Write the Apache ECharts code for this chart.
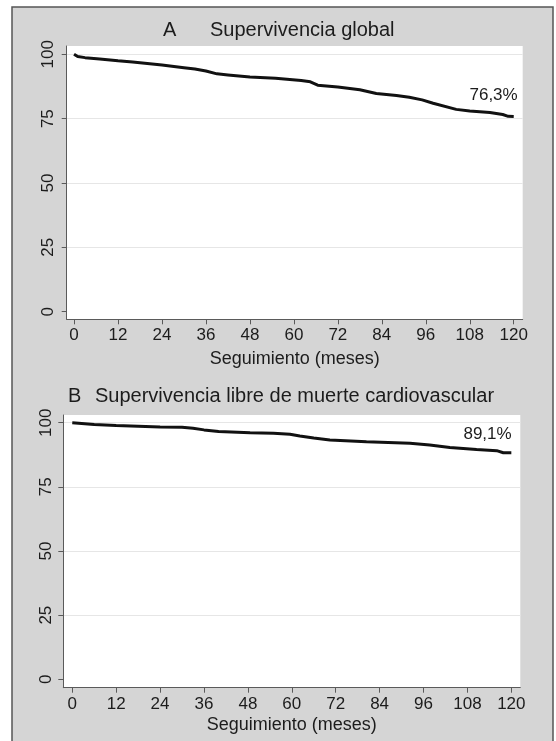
<!DOCTYPE html>
<html>
<head>
<meta charset="utf-8">
<script src="https://cdn.jsdelivr.net/npm/echarts@6/dist/echarts.min.js"></script>
<style>
  html, body { margin: 0; padding: 0; background: #fff; }
  #chart { width: 556px; height: 741px; }
</style>
</head>
<body>
<div id="chart"></div>
<script>
// datos (meses, % supervivencia)
const monthsA = [0, 1, 3, 7, 12, 16, 20, 24, 30, 33, 36, 39, 42, 48, 55, 62, 64.5, 66.5, 72, 78, 82.5, 88, 91.5, 95, 98, 104.3, 108, 113.5, 117, 118.5, 120];
const survA = [100, 99.1, 98.7, 98.2, 97.5, 97.0, 96.4, 95.8, 94.8, 94.3, 93.5, 92.4, 92.0, 91.2, 90.7, 89.8, 89.3, 88.0, 87.3, 86.2, 84.8, 84.0, 83.3, 82.3, 81.0, 78.6, 78.0, 77.4, 76.6, 75.9, 75.8];
const monthsB = [0, 6, 12, 18, 24, 30, 33, 36, 40, 48.6, 55, 59.5, 62.2, 66, 70.4, 80.4, 92.3, 97.7, 103.2, 110.5, 116, 117.8, 120];
const survB = [100, 99.3, 98.9, 98.6, 98.3, 98.2, 97.8, 97.2, 96.6, 96.1, 95.9, 95.5, 94.8, 94.0, 93.3, 92.6, 92.0, 91.3, 90.3, 89.6, 89.1, 88.3, 88.3];
const xTicks = [0, 12, 24, 36, 48, 60, 72, 84, 96, 108, 120];
const yTicks = [0, 25, 50, 75, 100];
const labelA = '76,3%';
const labelB = '89,1%';
const xName = 'Seguimiento (meses)';

const FONT = '"Liberation Sans", Arial, sans-serif';
const TXT = '#1c1c1c';
const AX = '#5a5a5a';

function pairs(xs, ys){
  return xs.map((x, i) => [x, ys[i]]);
}

function xAxisFor(gridIndex, min, nameGap){
  return {
    type: 'value', gridIndex, min, max: 122.45,
    name: xName, nameLocation: 'middle', nameGap,
    nameTextStyle: { fontFamily: FONT, fontSize: 18, color: TXT },
    axisLine: { show: true, onZero: false, lineStyle: { color: AX, width: 1 } },
    axisTick: { show: true, length: 5, customValues: xTicks, lineStyle: { color: AX } },
    axisLabel: { customValues: xTicks, margin: 8, fontFamily: FONT, fontSize: 17, color: TXT },
    splitLine: { show: false }
  };
}

function yAxisFor(gridIndex, min, max, margin){
  return {
    type: 'value', gridIndex, min, max,
    axisLine: { show: true, onZero: false, lineStyle: { color: AX, width: 1 } },
    axisTick: { show: true, length: 5, customValues: yTicks, lineStyle: { color: AX } },
    axisLabel: { customValues: yTicks, rotate: 90, margin, fontFamily: FONT, fontSize: 17, color: TXT },
    splitLine: { show: true, lineStyle: { color: ['rgba(0,0,0,0)', '#e6e6e6', '#e6e6e6', '#e6e6e6', '#e6e6e6'], width: 1 } }
  };
}

function curve(idx, xs, ys, txt, at){
  return {
    type: 'line', xAxisIndex: idx, yAxisIndex: idx,
    data: pairs(xs, ys), showSymbol: false, smooth: false,
    lineStyle: { color: '#111', width: 3 },
    markPoint: {
      symbol: 'circle', symbolSize: 1, itemStyle: { color: 'rgba(0,0,0,0)' },
      label: { show: true, position: 'inside', formatter: txt, fontFamily: FONT, fontSize: 17, color: TXT },
      data: [{ coord: at, value: txt }]
    }
  };
}

const chart = echarts.init(document.getElementById('chart'));
chart.setOption({
  animation: false,
  backgroundColor: '#fff',
  graphic: [{
    type: 'rect', z: -10, silent: true,
    shape: { x: 12, y: 7, width: 541, height: 740 },
    style: { fill: '#d5d5d5', stroke: '#555', lineWidth: 1.5 }
  }],
  title: [
    { text: 'A', left: 163, top: 20, padding: 0, textStyle: { fontFamily: FONT, fontSize: 20, fontWeight: 'normal', color: TXT } },
    { text: 'Supervivencia global', left: 210, top: 20, padding: 0, textStyle: { fontFamily: FONT, fontSize: 20, fontWeight: 'normal', color: TXT } },
    { text: 'B', left: 68, top: 386, padding: 0, textStyle: { fontFamily: FONT, fontSize: 20, fontWeight: 'normal', color: TXT } },
    { text: 'Supervivencia libre de muerte cardiovascular', left: 95, top: 386, padding: 0, textStyle: { fontFamily: FONT, fontSize: 20, fontWeight: 'normal', color: TXT } }
  ],
  grid: [
    { left: 66.7, top: 46, width: 456, height: 273.3, show: true, backgroundColor: '#fff', borderWidth: 0 },
    { left: 63.3, top: 415, width: 457, height: 272.7, show: true, backgroundColor: '#fff', borderWidth: 0 }
  ],
  xAxis: [ xAxisFor(0, -2.0, 31), xAxisFor(1, -2.45, 28) ],
  yAxis: [ yAxisFor(0, -2.95, 103.22, 10), yAxisFor(1, -3.27, 103.0, 8) ],
  series: [
    curve(0, monthsA, survA, labelA, [114.5, 83.9]),
    curve(1, monthsB, survB, labelB, [113.5, 95.5])
  ]
});
</script>
</body>
</html>
